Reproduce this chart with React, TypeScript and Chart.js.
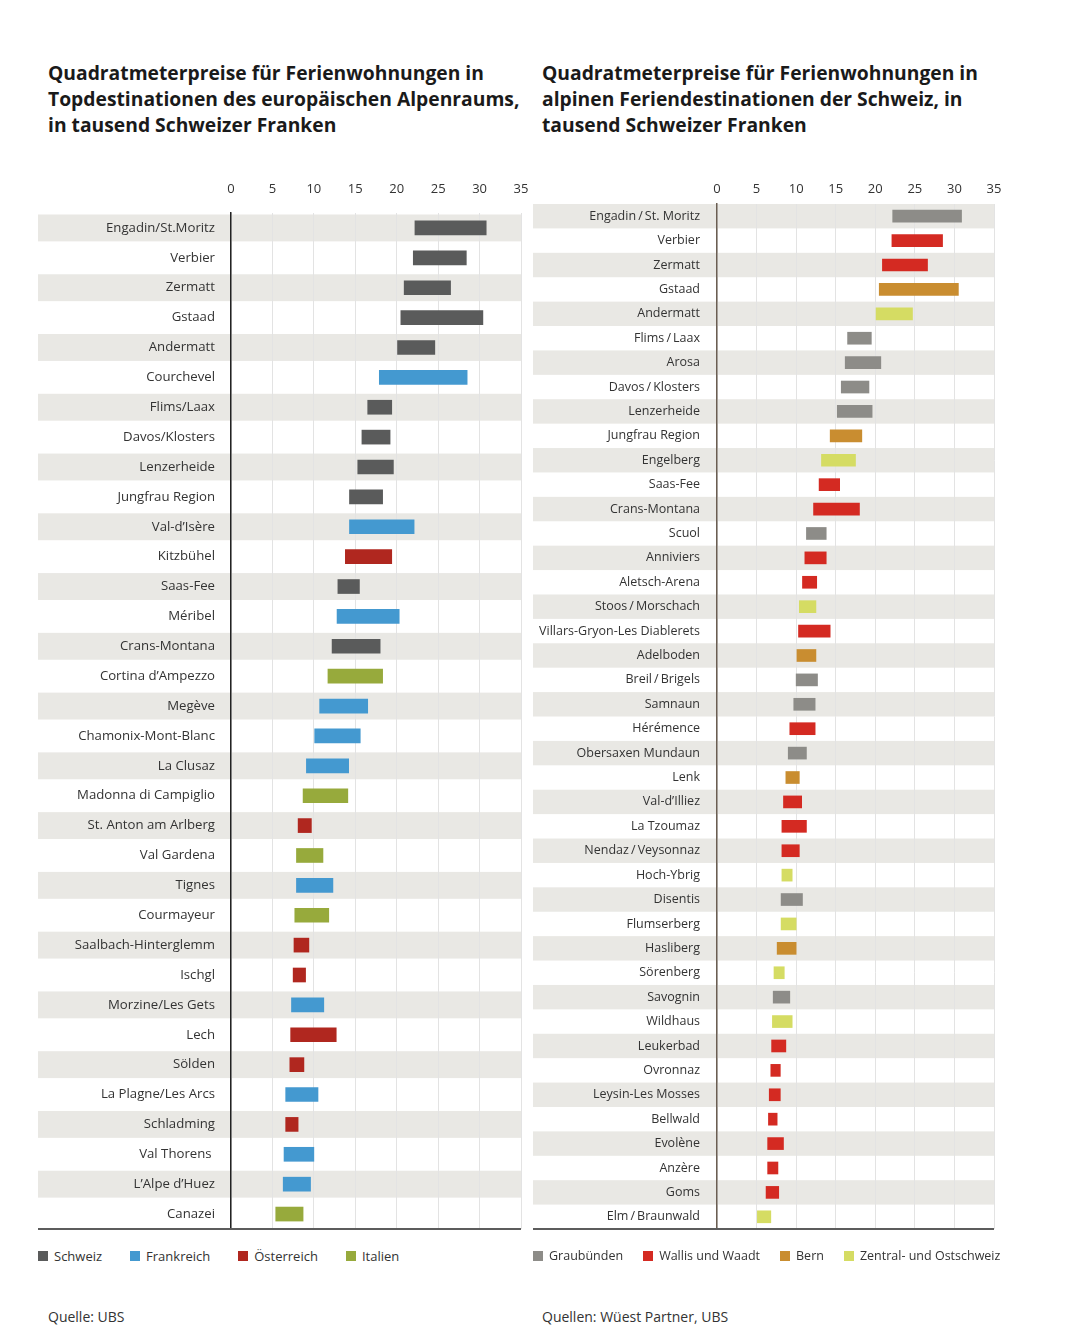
import React, { useEffect, useRef } from "react";
import { Chart, registerables } from "chart.js";

Chart.register(...registerables);

// ---------- shared ----------
const xTickValues = [0, 5, 10, 15, 20, 25, 30, 35];

// ---------- left chart data ----------
const leftTitle = [
  "Quadratmeterpreise für Ferienwohnungen in",
  "Topdestinationen des europäischen Alpenraums,",
  "in tausend Schweizer Franken",
];
const leftSource = "Quelle: UBS";
const leftSeries = ["Schweiz", "Frankreich", "Österreich", "Italien"];
const leftColors = ["#5a5b5b", "#4499d0", "#b0271f", "#97aa3c"];
const leftCategories = [
  "Engadin/St.Moritz",
  "Verbier",
  "Zermatt",
  "Gstaad",
  "Andermatt",
  "Courchevel",
  "Flims/Laax",
  "Davos/Klosters",
  "Lenzerheide",
  "Jungfrau Region",
  "Val-d’Isère",
  "Kitzbühel",
  "Saas-Fee",
  "Méribel",
  "Crans-Montana",
  "Cortina d’Ampezzo",
  "Megève",
  "Chamonix-Mont-Blanc",
  "La Clusaz",
  "Madonna di Campiglio",
  "St. Anton am Arlberg",
  "Val Gardena",
  "Tignes",
  "Courmayeur",
  "Saalbach-Hinterglemm",
  "Ischgl",
  "Morzine/Les Gets",
  "Lech",
  "Sölden",
  "La Plagne/Les Arcs",
  "Schladming",
  "Val Thorens ",
  "L’Alpe d’Huez",
  "Canazei",
];
const leftStart = [
  22.2, 22.0, 20.9, 20.5, 20.1, 17.9, 16.5, 15.8, 15.3, 14.3, 14.3, 13.8, 12.9, 12.8, 12.2, 11.7, 10.7,
  10.1, 9.1, 8.7, 8.1, 7.9, 7.9, 7.7, 7.6, 7.5, 7.3, 7.2, 7.1, 6.6, 6.6, 6.4, 6.3, 5.4,
];
const leftEnd = [
  30.8, 28.4, 26.5, 30.4, 24.6, 28.5, 19.4, 19.2, 19.6, 18.3, 22.1, 19.4, 15.5, 20.3, 18.0, 18.3, 16.5,
  15.6, 14.2, 14.1, 9.7, 11.1, 12.3, 11.8, 9.4, 9.0, 11.2, 12.7, 8.8, 10.5, 8.1, 10.0, 9.6, 8.7,
];
const leftGroup = [
  0, 0, 0, 0, 0, 1, 0, 0, 0, 0, 1, 2, 0, 1, 0, 3, 1, 1, 1, 3, 2, 3, 1, 3, 2, 2, 1, 2, 2, 1, 2, 1, 1, 3,
];

// ---------- right chart data ----------
const rightTitle = [
  "Quadratmeterpreise für Ferienwohnungen in",
  "alpinen Feriendestinationen der Schweiz, in",
  "tausend Schweizer Franken",
];
const rightSource = "Quellen: Wüest Partner, UBS";
const rightSeries = ["Graubünden", "Wallis und Waadt", "Bern", "Zentral- und Ostschweiz"];
const rightColors = ["#8d8c88", "#d42a22", "#c98d30", "#d5dc63"];
const rightCategories = [
  "Engadin\u2009/\u2009St. Moritz",
  "Verbier",
  "Zermatt",
  "Gstaad",
  "Andermatt",
  "Flims\u2009/\u2009Laax",
  "Arosa",
  "Davos\u2009/\u2009Klosters",
  "Lenzerheide",
  "Jungfrau Region",
  "Engelberg",
  "Saas-Fee",
  "Crans-Montana",
  "Scuol",
  "Anniviers",
  "Aletsch-Arena",
  "Stoos\u2009/\u2009Morschach",
  "Villars-Gryon-Les Diablerets",
  "Adelboden",
  "Breil\u2009/\u2009Brigels",
  "Samnaun",
  "Hérémence",
  "Obersaxen Mundaun",
  "Lenk",
  "Val-d’Illiez",
  "La Tzoumaz",
  "Nendaz\u2009/\u2009Veysonnaz",
  "Hoch-Ybrig",
  "Disentis",
  "Flumserberg",
  "Hasliberg",
  "Sörenberg",
  "Savognin",
  "Wildhaus",
  "Leukerbad",
  "Ovronnaz",
  "Leysin-Les Mosses",
  "Bellwald",
  "Evolène",
  "Anzère",
  "Goms",
  "Elm\u2009/\u2009Braunwald",
];
const rightStart = [
  22.2, 22.1, 20.9, 20.5, 20.1, 16.5, 16.2, 15.7, 15.2, 14.3, 13.2, 12.9, 12.2, 11.3, 11.1, 10.8, 10.4,
  10.3, 10.1, 10.0, 9.7, 9.2, 9.0, 8.7, 8.4, 8.2, 8.2, 8.2, 8.1, 8.1, 7.6, 7.2, 7.1, 7.0, 6.9, 6.8, 6.6,
  6.5, 6.4, 6.4, 6.2, 5.1,
];
const rightEnd = [
  30.9, 28.5, 26.6, 30.5, 24.7, 19.5, 20.7, 19.2, 19.6, 18.3, 17.5, 15.5, 18.0, 13.8, 13.8, 12.6, 12.5,
  14.3, 12.5, 12.7, 12.4, 12.4, 11.3, 10.4, 10.7, 11.3, 10.4, 9.5, 10.8, 10.0, 10.0, 8.5, 9.2, 9.5, 8.7,
  8.0, 8.0, 7.6, 8.4, 7.7, 7.8, 6.8,
];
const rightGroup = [
  0, 1, 1, 2, 3, 0, 0, 0, 0, 2, 3, 1, 1, 0, 1, 1, 3, 1, 2, 0, 0, 1, 0, 2, 1, 1, 1, 3, 0, 3, 2, 3, 0, 3,
  1, 1, 1, 1, 1, 1, 1, 3,
];

const FONT = "'Open Sans', 'Noto Sans', sans-serif";
const BAND = "#e9e8e4";

type Cfg = {
  categories: string[];
  starts: number[];
  ends: number[];
  groups: number[];
  series: string[];
  colors: string[];
  width: number;
  height: number;
  yWidth: number;
  xHeight: number;
  xPad: number;
  yPad: number;
  barThickness: number;
  bandRatio: number;
  axisColor: string;
  labelSize: number;
};

function zeroPadding(s: any) {
  s.paddingLeft = 0;
  s.paddingRight = 0;
  s.paddingTop = 0;
  s.paddingBottom = 0;
}

function RangeChart({ cfg, left, top }: { cfg: Cfg; left: number; top: number }) {
  const ref = useRef<HTMLCanvasElement>(null);
  useEffect(() => {
    if (!ref.current) return;
    const datasets = cfg.series.map((name, g) => ({
      label: name,
      data: cfg.categories.map((_, i) =>
        cfg.groups[i] === g ? [cfg.starts[i], cfg.ends[i]] : null
      ),
      backgroundColor: cfg.colors[g],
      borderWidth: 0,
      barThickness: cfg.barThickness,
      grouped: false,
    }));
    const bandPlugin = {
      id: "bands",
      beforeDraw(chart: any) {
        const { ctx, chartArea, scales } = chart;
        const y = scales.y;
        const n = cfg.categories.length;
        const h = chartArea.height / n;
        ctx.save();
        ctx.fillStyle = BAND;
        for (let i = 0; i < n; i += 2) {
          const c = y.getPixelForValue(i);
          ctx.fillRect(0, c - (h * cfg.bandRatio) / 2, chartArea.right, h * cfg.bandRatio);
        }
        ctx.restore();
      },
      afterDraw(chart: any) {
        const { ctx, chartArea } = chart;
        ctx.save();
        ctx.strokeStyle = "#5c5c5c";
        ctx.lineWidth = 2;
        ctx.beginPath();
        ctx.moveTo(0, chartArea.bottom);
        ctx.lineTo(chartArea.right, chartArea.bottom);
        ctx.stroke();
        ctx.restore();
      },
    };
    const chart = new Chart(ref.current, {
      type: "bar",
      data: { labels: cfg.categories, datasets: datasets as any },
      options: {
        indexAxis: "y",
        animation: false,
        responsive: false,
        maintainAspectRatio: false,
        layout: { padding: { left: 0, right: 14, top: 0, bottom: 3 } },
        plugins: { legend: { display: false }, tooltip: { enabled: false } },
        scales: {
          x: {
            type: "linear",
            position: "top",
            min: 0,
            max: 35,
            afterBuildTicks: (s: any) => {
              s.ticks = xTickValues.map((v) => ({ value: v }));
            },
            ticks: {
              padding: cfg.xPad,
              color: "#333",
              font: { family: FONT, size: 13 },
            },
            grid: { color: "#e3e3e3", lineWidth: 1, drawTicks: false },
            border: { display: false },
            afterFit: (s: any) => {
              s.height = cfg.xHeight;
              zeroPadding(s);
            },
          },
          y: {
            type: "category",
            ticks: {
              padding: cfg.yPad,
              color: "#333",
              autoSkip: false,
              font: { family: FONT, size: cfg.labelSize },
            },
            grid: { display: false, drawTicks: false },
            border: { display: true, color: cfg.axisColor, width: 1.5 },
            afterFit: (s: any) => {
              s.width = cfg.yWidth;
              zeroPadding(s);
            },
          },
        },
      } as any,
      plugins: [bandPlugin],
    });
    return () => chart.destroy();
  }, []);
  return (
    <canvas
      ref={ref}
      width={cfg.width}
      height={cfg.height}
      style={{ position: "absolute", left, top, width: cfg.width, height: cfg.height }}
    />
  );
}

function Title({ lines, left }: { lines: string[]; left: number }) {
  return (
    <div
      style={{
        position: "absolute",
        left,
        top: 60,
        fontFamily: FONT,
        fontWeight: 700,
        fontSize: 19.3,
        lineHeight: "26px",
        color: "#1a1a1a",
        whiteSpace: "nowrap",
      }}
    >
      {lines.map((l, i) => (
        <div key={i}>{l}</div>
      ))}
    </div>
  );
}

function Legend({
  names,
  colors,
  left,
  gap,
  size,
}: {
  names: string[];
  colors: string[];
  left: number;
  gap: number;
  size: number;
}) {
  return (
    <div
      style={{
        position: "absolute",
        left,
        top: 1247,
        display: "flex",
        gap,
        fontFamily: FONT,
        fontSize: size,
        lineHeight: "18px",
        color: "#333",
        whiteSpace: "nowrap",
      }}
    >
      {names.map((n, i) => (
        <div key={i} style={{ display: "flex", alignItems: "center" }}>
          <span
            style={{ width: 10, height: 10, background: colors[i], marginRight: 6, display: "inline-block" }}
          />
          <span>{n}</span>
        </div>
      ))}
    </div>
  );
}

function Source({ text, left }: { text: string; left: number }) {
  return (
    <div
      style={{
        position: "absolute",
        left,
        top: 1307,
        fontFamily: FONT,
        fontSize: 14,
        lineHeight: "20px",
        color: "#333",
        whiteSpace: "nowrap",
      }}
    >
      {text}
    </div>
  );
}

export default function App() {
  const leftCfg: Cfg = {
    categories: leftCategories,
    starts: leftStart,
    ends: leftEnd,
    groups: leftGroup,
    series: leftSeries,
    colors: leftColors,
    width: 497,
    height: 1062,
    yWidth: 193,
    xHeight: 43,
    xPad: 16,
    yPad: 16,
    barThickness: 14,
    bandRatio: 0.9,
    axisColor: "#222",
    labelSize: 13.2,
  };
  const rightCfg: Cfg = {
    categories: rightCategories,
    starts: rightStart,
    ends: rightEnd,
    groups: rightGroup,
    series: rightSeries,
    colors: rightColors,
    width: 475,
    height: 1062,
    yWidth: 184,
    xHeight: 34,
    xPad: 7,
    yPad: 17,
    barThickness: 12,
    bandRatio: 1.0,
    axisColor: "#6b5e52",
    labelSize: 12.5,
  };
  return (
    <div
      style={{
        position: "absolute",
        left: 0,
        top: 0,
        width: 1066,
        height: 1340,
        background: "#fff",
        overflow: "hidden",
      }}
    >
      <Title lines={leftTitle} left={48} />
      <Title lines={rightTitle} left={542} />
      <RangeChart cfg={leftCfg} left={38} top={170} />
      <RangeChart cfg={rightCfg} left={533} top={170} />
      <Legend names={leftSeries} colors={leftColors} left={38} gap={28} size={13} />
      <Legend names={rightSeries} colors={rightColors} left={533} gap={20} size={12.5} />
      <Source text={leftSource} left={48} />
      <Source text={rightSource} left={542} />
    </div>
  );
}
